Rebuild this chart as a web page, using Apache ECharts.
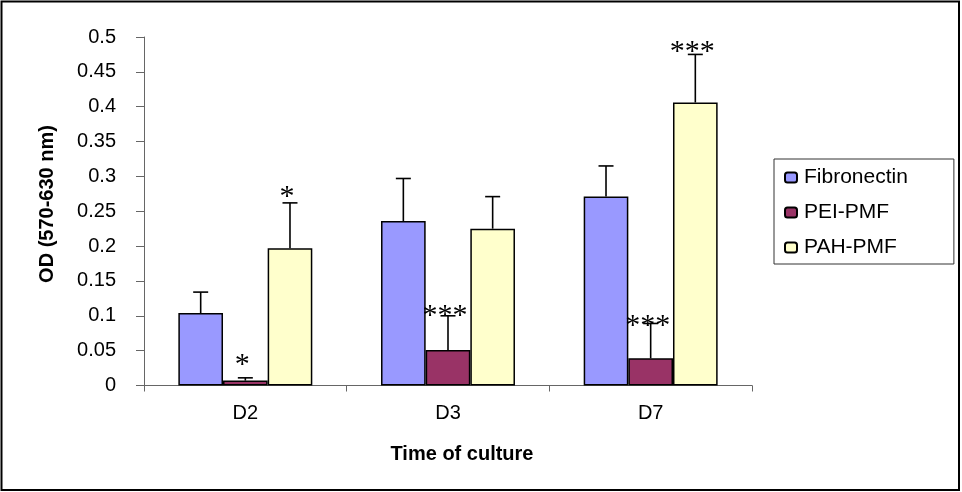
<!DOCTYPE html>
<html>
<head>
<meta charset="utf-8">
<script src="https://cdn.jsdelivr.net/npm/echarts@6/dist/echarts.min.js"></script>
<style>
  html, body { margin: 0; padding: 0; background: #fff; }
  #chart { width: 962px; height: 492px; }
</style>
</head>
<body>
<div id="chart"></div>
<script>
// data
var days = ['D2', 'D3', 'D7'];
var groups = ['Fibronectin', 'PEI-PMF', 'PAH-PMF'];
var colors = ['#9999FF', '#993366', '#FFFFCC'];
var fibronectin = [0.104, 0.236, 0.271];
var peiPmf = [0.007, 0.051, 0.039];
var pahPmf = [0.197, 0.225, 0.406];
var fibronectinErr = [0.030, 0.061, 0.044];
var peiPmfErr = [0.004, 0.049, 0.050];
var pahPmfErr = [0.065, 0.046, 0.069];
// significance marks: [day index, group index, text, value where the mark sits]
var marks = [
  [0, 1, '*', 0.037],
  [0, 2, '*', 0.277],
  [1, 1, '***', 0.107],
  [2, 1, '***', 0.092],
  [2, 2, '***', 0.485]
];

var values = [fibronectin, peiPmf, pahPmf];
var errors = [fibronectinErr, peiPmfErr, pahPmfErr];
var catGap = 0.339;

var errData = [];
for (var g = 0; g < groups.length; g++) {
  for (var d = 0; d < days.length; d++) {
    errData.push([d, values[g][d], errors[g][d], g]);
  }
}

var chart = echarts.init(document.getElementById('chart'));

var barSeries = groups.map(function (name, i) {
  return {
    name: name,
    type: 'bar',
    data: values[i],
    barGap: '0%',
    barCategoryGap: (catGap * 100) + '%',
    itemStyle: { color: colors[i], borderColor: '#000', borderWidth: 1.5 }
  };
});

function barX(api, cat, g) {
  var band = api.size([1, 0])[0];
  var bw = band * (1 - catGap) / 3;
  return api.coord([cat, 0])[0] + (g - 1) * bw;
}

// error bars (upper half only)
barSeries.push({
  type: 'custom',
  z: 5,
  silent: true,
  data: errData,
  encode: { x: 0, y: 1 },
  renderItem: function (params, api) {
    var cat = api.value(0), v = api.value(1), e = api.value(2), g = api.value(3);
    var x = barX(api, cat, g);
    var y0 = api.coord([cat, v])[1];
    var y1 = api.coord([cat, v + e])[1];
    var st = { stroke: '#000', lineWidth: 1.6 };
    return {
      type: 'group',
      children: [
        { type: 'line', shape: { x1: x, y1: y0, x2: x, y2: y1 }, style: st },
        { type: 'line', shape: { x1: x - 7.5, y1: y1, x2: x + 7.5, y2: y1 }, style: st }
      ]
    };
  }
});

// asterisks
barSeries.push({
  type: 'custom',
  z: 6,
  silent: true,
  data: marks.map(function (m) { return [m[0], m[3], m[1], m[2]]; }),
  encode: { x: 0, y: 1 },
  renderItem: function (params, api) {
    var cat = api.value(0), v = api.value(1), g = api.value(2);
    var txt = marks[params.dataIndex][2];
    var x = barX(api, cat, g) - 3;
    var y = api.coord([cat, v])[1];
    return {
      type: 'text',
      style: {
        x: x, y: y + 5, text: txt,
        fill: '#000',
        font: '30px "Liberation Serif", "DejaVu Serif", serif',
        align: 'center', verticalAlign: 'middle'
      }
    };
  }
});

chart.setOption({
  animation: false,
  backgroundColor: '#fff',
  textStyle: { fontFamily: '"Liberation Sans", Arial, sans-serif' },
  grid: { left: 144, top: 37, width: 608, height: 348.5 },
  legend: {
    data: groups,
    orient: 'vertical',
    left: 774,
    top: 159,
    padding: [8, 46, 6, 10],
    itemGap: 14,
    itemWidth: 12,
    itemHeight: 10,
    borderColor: '#333',
    borderWidth: 1,
    selectedMode: false,
    textStyle: { fontSize: 21, color: '#000', fontFamily: '"Liberation Sans", Arial, sans-serif', padding: [0, 0, 0, 2] }
  },
  xAxis: {
    type: 'category',
    data: days,
    axisLine: { lineStyle: { color: '#666', width: 1 } },
    axisTick: { show: true, length: 6, lineStyle: { color: '#666' } },
    axisLabel: { fontSize: 20, color: '#000', margin: 18 },
    splitLine: { show: false }
  },
  yAxis: {
    type: 'value',
    min: 0,
    max: 0.5,
    interval: 0.05,
    axisLine: { show: true, lineStyle: { color: '#666', width: 1 } },
    axisTick: { show: true, length: 8, lineStyle: { color: '#666' } },
    axisLabel: { fontSize: 20, color: '#000', margin: 28 },
    splitLine: { show: false }
  },
  graphic: [
    {
      type: 'rect',
      shape: { x: 1.5, y: 1.5, width: 957.5, height: 488.5 },
      style: { fill: 'none', stroke: '#000', lineWidth: 2 },
      silent: true
    },
    {
      type: 'text',
      x: 47, y: 204,
      rotation: Math.PI / 2,
      style: {
        text: 'OD (570-630 nm)',
        font: 'bold 20px "Liberation Sans", Arial, sans-serif',
        fill: '#000', align: 'center', verticalAlign: 'middle'
      }
    },
    {
      type: 'text',
      x: 462, y: 454,
      style: {
        text: 'Time of culture',
        font: 'bold 20px "Liberation Sans", Arial, sans-serif',
        fill: '#000', align: 'center', verticalAlign: 'middle'
      }
    }
  ],
  series: barSeries
});
</script>
</body>
</html>
